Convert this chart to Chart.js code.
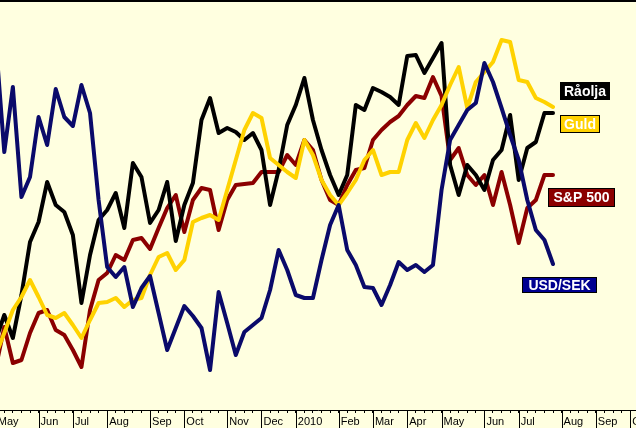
<!DOCTYPE html>
<html>
<head>
<meta charset="utf-8">
<script src="https://cdn.jsdelivr.net/npm/chart.js@4/dist/chart.umd.min.js"></script>
<style>
  html, body { margin: 0; padding: 0; background: #FFFFE0; }
  #wrap { width: 636px; height: 428px; position: relative; }
</style>
</head>
<body>
<div id="wrap"><canvas id="chart"></canvas></div>
<script>
// weekly points, first week = Sat 2 May 2009
const startDate = new Date(2009, 4, 2);
const weekCount = 75; // ticks on the axis
const monthNames = ['Jan', 'Feb', 'Mar', 'Apr', 'May', 'Jun', 'Jul', 'Aug', 'Sep', 'Oct', 'Nov', 'Dec'];

// levels (arbitrary index units)
const raolja = [70, 95, 72, 115, 168, 188, 228, 205, 198, 175, 107, 155, 190, 200, 217, 182, 247, 233, 187, 200,
  228, 169, 205, 227, 290, 312, 277, 282, 278, 270, 277, 260, 205, 240, 285, 305, 332, 290, 260, 235,
  215, 235, 305, 300, 322, 318, 313, 305, 354, 355, 337, 352, 367, 245, 215, 245, 235, 220, 250, 260,
  295, 230, 262, 268, 297, 297];
const guld = [55, 77, 100, 113, 130, 113, 95, 92, 97, 85, 72, 90, 107, 108, 112, 103, 110, 112, 135, 153,
  157, 140, 150, 188, 192, 195, 190, 220, 250, 280, 297, 292, 252, 245, 238, 232, 270, 255, 230, 215,
  205, 217, 230, 250, 260, 235, 238, 238, 270, 287, 272, 290, 305, 325, 343, 302, 328, 338, 348, 370,
  368, 330, 328, 312, 308, 303];
const sp500 = [42, 83, 47, 50, 77, 97, 100, 80, 75, 60, 43, 100, 130, 137, 155, 150, 170, 172, 161, 182,
  202, 215, 178, 210, 222, 220, 180, 210, 225, 226, 227, 238, 238, 238, 255, 245, 270, 260, 230, 210,
  205, 225, 240, 242, 270, 280, 288, 294, 305, 314, 312, 333, 314, 250, 262, 235, 225, 235, 205, 238,
  205, 167, 202, 210, 235, 235];
const usdsek = [370, 258, 323, 213, 233, 293, 265, 321, 293, 284, 325, 297, 210, 143, 133, 143, 103, 122, 134, 97,
  60, 82, 104, 94, 82, 40, 118, 87, 55, 78, 85, 92, 120, 160, 140, 115, 112, 112, 150, 185,
  205, 160, 145, 123, 122, 105, 125, 148, 140, 145, 138, 145, 220, 270, 285, 300, 307, 347, 328, 302,
  275, 250, 210, 180, 170, 146];

const seriesNames = ['USD/SEK', 'Guld', 'Råolja', 'S&P 500'];
const seriesData = [usdsek, guld, raolja, sp500];
const lineColors = ['#0A0A6A', '#FFD200', '#000000', '#8B0000'];
const boxColors = ['#000090', '#FFD200', '#000000', '#8B0000'];
const boxPos = [[522, 277, 75, 16], [560, 115, 40, 18], [560, 82, 50, 18], [548, 188, 67, 19]];

const weekDates = [];
for (let i = 0; i < weekCount; i++) {
  weekDates.push(new Date(startDate.getTime() + i * 7 * 86400000));
}

function monthLabel(k) {
  let d = weekDates[k];
  if (!d || d.getDate() > 7) return '';
  return d.getMonth() === 0 ? String(d.getFullYear()) : monthNames[d.getMonth()];
}

let datasets = seriesData.map((vals, i) => ({
  label: seriesNames[i],
  data: vals.map((v, k) => ({x: k, y: v})),
  borderColor: lineColors[i],
  borderWidth: 4,
  borderJoinStyle: 'round',
  borderCapStyle: 'round',
  pointRadius: 0,
  tension: 0,
  fill: false
}));

const paper = {
  id: 'paper',
  beforeDraw(chart) {
    let c = chart.ctx;
    c.save();
    c.fillStyle = '#FFFFE0';
    c.fillRect(0, 0, chart.width, chart.height);
    c.restore();
  },
  afterDraw(chart) {
    let c = chart.ctx;
    let xs = chart.scales.x;
    c.save();
    // frame line on top
    c.fillStyle = '#000';
    c.fillRect(0, 0, chart.width, 2);
    // month separators through the label row
    c.strokeStyle = '#000';
    c.lineWidth = 1;
    for (let k = 0; k < weekCount; k++) {
      if (!monthLabel(k)) continue;
      let px = Math.round(xs.getPixelForValue(k)) + 0.5;
      c.beginPath();
      c.moveTo(px, xs.top);
      c.lineTo(px, chart.height);
      c.stroke();
    }
    // name tags
    c.font = 'bold 14px "Liberation Sans", Arial, sans-serif';
    c.textBaseline = 'middle';
    c.textAlign = 'center';
    seriesNames.forEach((name, i) => {
      let [bx, by, bw, bh] = boxPos[i];
      c.fillStyle = boxColors[i];
      c.fillRect(bx, by, bw, bh);
      c.strokeStyle = '#000';
      c.lineWidth = 1;
      c.strokeRect(bx + 0.5, by + 0.5, bw - 1, bh - 1);
      c.fillStyle = '#fff';
      c.fillText(name, bx + bw / 2, by + bh / 2 + 1);
    });
    c.restore();
  }
};

new Chart(document.getElementById('chart'), {
  type: 'line',
  data: { datasets: datasets },
  plugins: [paper],
  options: {
    responsive: true,
    maintainAspectRatio: false,
    animation: false,
    events: [],
    layout: { padding: 0 },
    plugins: { legend: { display: false }, tooltip: { enabled: false } },
    scales: {
      x: {
        type: 'linear',
        min: 0.5,
        max: 74.68,
        afterBuildTicks: (scale) => {
          scale.ticks = weekDates.map((d, k) => ({ value: k }));
        },
        afterFit: (scale) => {
          scale.paddingLeft = 0;
          scale.paddingRight = 0;
          scale.height = 18;
        },
        grid: { drawOnChartArea: false, drawTicks: true, tickLength: 3, color: '#000', lineWidth: 1 },
        border: { display: true, color: '#000', width: 1 },
        ticks: {
          autoSkip: false,
          maxRotation: 0,
          align: 'start',
          labelOffset: 2,
          padding: 2,
          color: '#000',
          font: { family: '"Liberation Sans", Arial, sans-serif', size: 11 },
          callback: (v, i) => monthLabel(Math.round(v))
        }
      },
      y: {
        display: false,
        min: 0,
        max: 410
      }
    }
  }
});
</script>
</body>
</html>
